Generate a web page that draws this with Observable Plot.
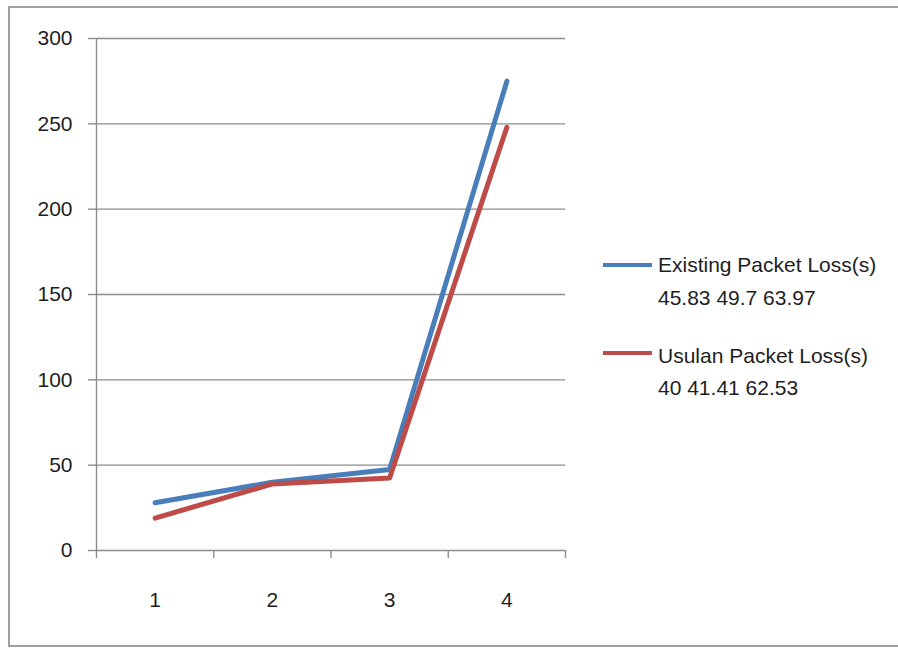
<!DOCTYPE html>
<html>
<head>
<meta charset="utf-8">
<script src="https://cdn.jsdelivr.net/npm/d3@7"></script>
<script src="https://cdn.jsdelivr.net/npm/@observablehq/plot@0.6"></script>
<style>
  body { margin: 0; background: #fff; }
  #wrap { position: relative; width: 898px; height: 648px; overflow: hidden; font-family: "Liberation Sans", Arial, sans-serif; }
  #frame { position: absolute; left: 8px; top: 6px; width: 890px; height: 641px; box-sizing: border-box;
           border-left: 2px solid #a0a0a0; border-top: 2px solid #a0a0a0; border-bottom: 2px solid #a0a0a0; }
  #chart { position: absolute; left: 0; top: 0; }
  .lg-swatch { position: absolute; width: 49px; height: 4px; }
  .lg-text { position: absolute; font-size: 21px; line-height: 21px; color: #1e1e1e; white-space: nowrap; }
</style>
</head>
<body>
<div id="wrap">
  <div id="frame"></div>
  <div id="chart"></div>
  <div id="legend"></div>
</div>
<script>
// Test runs on the x axis
const runs = [1, 2, 3, 4];
// Packet loss per run
const existing = [28, 40, 47.5, 275];
const usulan = [19, 39, 42.5, 248];
// Series names and the legend's second line of text
const seriesNames = ["Existing Packet Loss(s)", "Usulan Packet Loss(s)"];
const seriesNotes = ["45.83 49.7 63.97", "40 41.41 62.53"];
const seriesColors = ["#4a7ebb", "#be4b48"];
// Axis ticks
const yTicks = [0, 50, 100, 150, 200, 250, 300];
const xBounds = [0.5, 1.5, 2.5, 3.5, 4.5];

const rows = [
  ...runs.map((r, i) => ({run: r, value: existing[i], series: seriesNames[0]})),
  ...runs.map((r, i) => ({run: r, value: usulan[i], series: seriesNames[1]}))
];

const grid = "#8c8c8c";

const chart = Plot.plot({
  width: 898,
  height: 648,
  marginLeft: 96,
  marginRight: 333,
  marginTop: 38,
  marginBottom: 98,
  style: {background: "transparent", fontFamily: "'Liberation Sans', Arial, sans-serif", color: "#1e1e1e"},
  x: {domain: [0.5, 4.5], axis: null},
  y: {domain: [0, 300], axis: null},
  color: {domain: seriesNames, range: seriesColors},
  marks: [
    // horizontal gridlines (the 0 line doubles as the x axis)
    Plot.ruleY(yTicks, {stroke: grid, strokeWidth: 1.4}),
    // vertical axis line
    Plot.ruleX([0.5], {stroke: grid, strokeWidth: 1.4}),
    // y axis ticks and labels
    Plot.axisY({ticks: yTicks, label: null, tickSize: 8, tickPadding: 16, fontSize: 21, stroke: grid, strokeWidth: 1.4, tickFormat: d3.format("d")}),
    // x axis tick marks at category boundaries
    Plot.axisX({ticks: xBounds, label: null, tickSize: 8, tickPadding: 0, stroke: grid, strokeWidth: 1.4, tickFormat: () => ""}),
    // x axis category labels
    Plot.axisX({ticks: runs, label: null, tickSize: 0, tickPadding: 42, fontSize: 21, tickFormat: d3.format("d")}),
    // series lines
    Plot.line(rows, {x: "run", y: "value", z: "series", stroke: "series", strokeWidth: 5, strokeLinejoin: "round", strokeLinecap: "round"})
  ]
});
document.getElementById("chart").appendChild(chart);

// legend on the right
const legend = d3.select("#legend");
const swatchTops = [263, 351];
const textTops = [[254, 287], [345, 377]];
seriesNames.forEach((name, i) => {
  legend.append("div").attr("class", "lg-swatch")
    .style("left", "603px").style("top", swatchTops[i] + "px").style("background", seriesColors[i]);
  legend.append("div").attr("class", "lg-text")
    .style("left", "658px").style("top", textTops[i][0] + "px").text(name);
  legend.append("div").attr("class", "lg-text")
    .style("left", "658px").style("top", textTops[i][1] + "px").text(seriesNotes[i]);
});
</script>
</body>
</html>
